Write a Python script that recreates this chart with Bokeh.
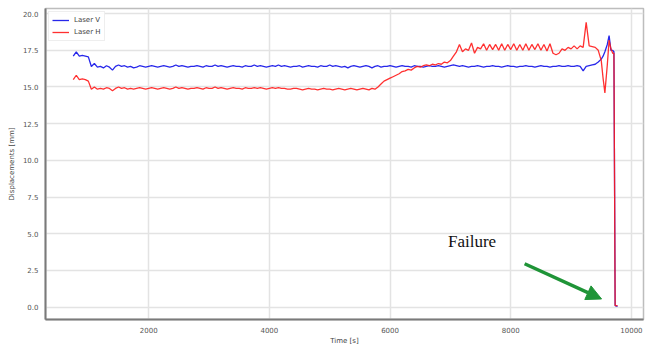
from bokeh.plotting import figure
from bokeh.models import (Range1d, FixedTicker, NumeralTickFormatter, Legend, LegendItem,
                          Arrow, NormalHead, Label)
from bokeh.embed import file_html
from bokeh.resources import INLINE

# Sample times [s]
time_s = [
    750, 800, 850, 900, 950, 1000, 1050, 1100, 1150, 1200,
    1250, 1300, 1350, 1400, 1450, 1500, 1550, 1600, 1650, 1700,
    1750, 1800, 1850, 1900, 1950, 2000, 2050, 2100, 2150, 2200,
    2250, 2300, 2350, 2400, 2450, 2500, 2550, 2600, 2650, 2700,
    2750, 2800, 2850, 2900, 2950, 3000, 3050, 3100, 3150, 3200,
    3250, 3300, 3350, 3400, 3450, 3500, 3550, 3600, 3650, 3700,
    3750, 3800, 3850, 3900, 3950, 4000, 4050, 4100, 4150, 4200,
    4250, 4300, 4350, 4400, 4450, 4500, 4550, 4600, 4650, 4700,
    4750, 4800, 4850, 4900, 4950, 5000, 5050, 5100, 5150, 5200,
    5250, 5300, 5350, 5400, 5450, 5500, 5550, 5600, 5650, 5700,
    5750, 5800, 5850, 5900, 5950, 6000, 6050, 6100, 6150, 6200,
    6250, 6300, 6350, 6400, 6450, 6500, 6550, 6600, 6650, 6700,
    6750, 6800, 6850, 6900, 6950, 7000, 7050, 7100, 7150, 7200,
    7250, 7300, 7350, 7400, 7450, 7500, 7550, 7600, 7650, 7700,
    7750, 7800, 7850, 7900, 7950, 8000, 8050, 8100, 8150, 8200,
    8250, 8300, 8350, 8400, 8450, 8500, 8550, 8600, 8650, 8700,
    8750, 8800, 8850, 8900, 8950, 9000, 9050, 9100, 9150, 9200,
    9250, 9300, 9350, 9400, 9450,
    9500, 9530, 9560, 9600, 9630, 9660, 9690, 9710, 9730, 9770,
]

# Vertical laser displacement [mm]
laser_v = [
    17.10, 17.40, 17.10, 17.15, 17.10, 17.05, 16.40, 16.60, 16.35, 16.40,
    16.30, 16.45, 16.35, 16.15, 16.40, 16.50, 16.40, 16.45, 16.35, 16.40,
    16.30, 16.35, 16.45, 16.40, 16.35, 16.40, 16.45, 16.40, 16.35, 16.40,
    16.45, 16.40, 16.35, 16.40, 16.50, 16.40, 16.45, 16.40, 16.35, 16.40,
    16.40, 16.45, 16.40, 16.35, 16.45, 16.40, 16.40, 16.50, 16.40, 16.45,
    16.40, 16.35, 16.40, 16.45, 16.40, 16.40, 16.35, 16.45, 16.40, 16.40,
    16.50, 16.40, 16.45, 16.40, 16.35, 16.40, 16.45, 16.40, 16.50, 16.40,
    16.45, 16.40, 16.35, 16.40, 16.40, 16.45, 16.35, 16.40, 16.45, 16.40,
    16.40, 16.35, 16.45, 16.40, 16.40, 16.50, 16.40, 16.45, 16.40, 16.35,
    16.40, 16.30, 16.40, 16.45, 16.40, 16.35, 16.40, 16.45, 16.40, 16.30,
    16.40, 16.45, 16.35, 16.40, 16.40, 16.45, 16.40, 16.35, 16.40, 16.45,
    16.40, 16.40, 16.35, 16.45, 16.40, 16.40, 16.35, 16.40, 16.45, 16.40,
    16.40, 16.45, 16.40, 16.35, 16.40, 16.45, 16.50, 16.45, 16.40, 16.45,
    16.40, 16.35, 16.40, 16.40, 16.45, 16.40, 16.35, 16.40, 16.40, 16.45,
    16.40, 16.40, 16.35, 16.40, 16.45, 16.40, 16.40, 16.35, 16.40, 16.40,
    16.45, 16.40, 16.40, 16.35, 16.40, 16.45, 16.40, 16.40, 16.35, 16.40,
    16.40, 16.45, 16.40, 16.40, 16.45, 16.40, 16.40, 16.45, 16.40, 16.10,
    16.40, 16.45, 16.50, 16.55, 16.70,
    16.90, 17.10, 17.40, 17.90, 18.50, 17.50, 17.50, 17.40, 0.10, 0.05,
]

# Horizontal laser displacement [mm]
laser_h = [
    15.50, 15.80, 15.50, 15.55, 15.50, 15.40, 14.85, 15.00, 14.85, 14.90,
    14.85, 14.95, 14.90, 14.75, 14.90, 15.00, 14.90, 14.95, 14.85, 14.90,
    14.85, 14.90, 14.95, 14.90, 14.85, 14.90, 14.95, 14.90, 14.85, 14.90,
    14.95, 14.90, 14.85, 14.90, 15.00, 14.90, 14.95, 14.90, 14.85, 14.90,
    14.90, 14.95, 14.90, 14.85, 14.95, 14.90, 14.90, 15.00, 14.90, 14.95,
    14.90, 14.85, 14.90, 14.95, 14.90, 14.90, 14.85, 14.95, 14.90, 14.90,
    14.95, 14.90, 14.95, 14.90, 14.85, 14.90, 14.95, 14.90, 14.95, 14.90,
    14.90, 14.85, 14.85, 14.90, 14.90, 14.85, 14.80, 14.85, 14.90, 14.85,
    14.85, 14.80, 14.85, 14.90, 14.85, 14.85, 14.80, 14.85, 14.90, 14.85,
    14.80, 14.85, 14.90, 14.85, 14.80, 14.85, 14.90, 14.85, 14.80, 14.90,
    14.85, 15.00, 15.20, 15.40, 15.50, 15.60, 15.70, 15.80, 15.90, 16.05,
    16.10, 16.20, 16.15, 16.30, 16.40, 16.35, 16.45, 16.50, 16.45, 16.55,
    16.50, 16.60, 16.55, 16.70, 16.65, 16.80, 17.10, 17.40, 17.90, 17.40,
    17.60, 17.50, 18.00, 17.30, 17.70, 17.60, 17.95, 17.50, 17.90, 17.55,
    17.90, 17.50, 17.95, 17.50, 17.90, 17.55, 17.95, 17.50, 17.90, 17.50,
    17.95, 17.50, 17.90, 17.55, 17.95, 17.50, 17.90, 17.45, 17.95, 17.30,
    17.20, 17.30, 17.60, 17.50, 17.70, 17.60, 17.80, 17.60, 17.80, 17.70,
    19.40, 17.80, 17.75, 17.70, 17.50,
    16.80, 15.60, 14.60, 16.50, 18.20, 17.60, 17.30, 17.30, 0.10, 0.10,
]

x_ticks = [2000, 4000, 6000, 8000, 10000]
y_ticks = [0.0, 2.5, 5.0, 7.5, 10.0, 12.5, 15.0, 17.5, 20.0]

# Annotation: label and arrow pointing at the drop to zero
failure_text = "Failure"
failure_label_pos = (6960, 3.8)
arrow_start = (8230, 2.95)
arrow_end = (9505, 0.55)

p = figure(width=651, height=347, output_backend="svg", toolbar_location=None,
           x_range=Range1d(290, 10200), y_range=Range1d(-0.85, 20.35),
           min_border_left=45, min_border_right=8, min_border_top=8, min_border_bottom=26)

p.background_fill_color = "white"
p.outline_line_color = "#bdbdbd"
p.outline_line_width = 1.5

tick_color = "#555555"
for ax in (p.xaxis[0], p.yaxis[0]):
    ax.axis_line_color = "#7a7a7a"
    ax.axis_line_width = 2
    ax.major_tick_line_color = None
    ax.minor_tick_line_color = None
    ax.major_tick_out = 0
    ax.major_tick_in = 0
    ax.minor_tick_out = 0
    ax.minor_tick_in = 0
    ax.major_label_text_font = "DejaVu Sans"
    ax.major_label_text_font_size = "7px"
    ax.major_label_text_color = tick_color
    ax.axis_label_text_font = "DejaVu Sans"
    ax.axis_label_text_font_size = "7px"
    ax.axis_label_text_font_style = "normal"
    ax.axis_label_text_color = "#444444"

p.xaxis.ticker = FixedTicker(ticks=x_ticks)
p.yaxis.ticker = FixedTicker(ticks=y_ticks)
p.xaxis.formatter = NumeralTickFormatter(format="0")
p.yaxis.formatter = NumeralTickFormatter(format="0.0")
p.xaxis.axis_label = "Time [s]"
p.yaxis.axis_label = "Displacements [mm]"
p.xaxis.major_label_standoff = 7
p.yaxis.major_label_standoff = 7
p.xaxis.axis_label_standoff = 1
p.yaxis.axis_label_standoff = 4

p.xgrid.grid_line_color = "#e3e3e3"
p.ygrid.grid_line_color = "#e3e3e3"
p.xgrid.grid_line_width = 1.5
p.ygrid.grid_line_width = 1.5

r_v = p.line(time_s, laser_v, line_color="#1010e8", line_width=1.3, line_alpha=0.9)
r_h = p.line(time_s, laser_h, line_color="#ff1a1a", line_width=1.3, line_alpha=0.9)

legend = Legend(items=[LegendItem(label="Laser V", renderers=[r_v]),
                       LegendItem(label="Laser H", renderers=[r_h])],
                location="top_left")
legend.label_text_font = "DejaVu Sans"
legend.label_text_font_size = "7px"
legend.label_text_color = "#444444"
legend.border_line_color = "#dddddd"
legend.border_line_width = 1
legend.background_fill_alpha = 0.9
legend.glyph_width = 17
legend.glyph_height = 10
legend.label_height = 10
legend.spacing = 2
legend.padding = 3
legend.margin = 3
p.add_layout(legend)

green = "#1f9437"
p.add_layout(Arrow(end=NormalHead(size=15, fill_color=green, line_color=green),
                   x_start=arrow_start[0], y_start=arrow_start[1],
                   x_end=arrow_end[0], y_end=arrow_end[1],
                   line_color=green, line_width=3.5))
p.add_layout(Label(x=failure_label_pos[0], y=failure_label_pos[1], text=failure_text,
                   text_font="Liberation Serif", text_font_size="17px",
                   text_color="#111111"))

open("out.html", "w").write(file_html(p, INLINE))
